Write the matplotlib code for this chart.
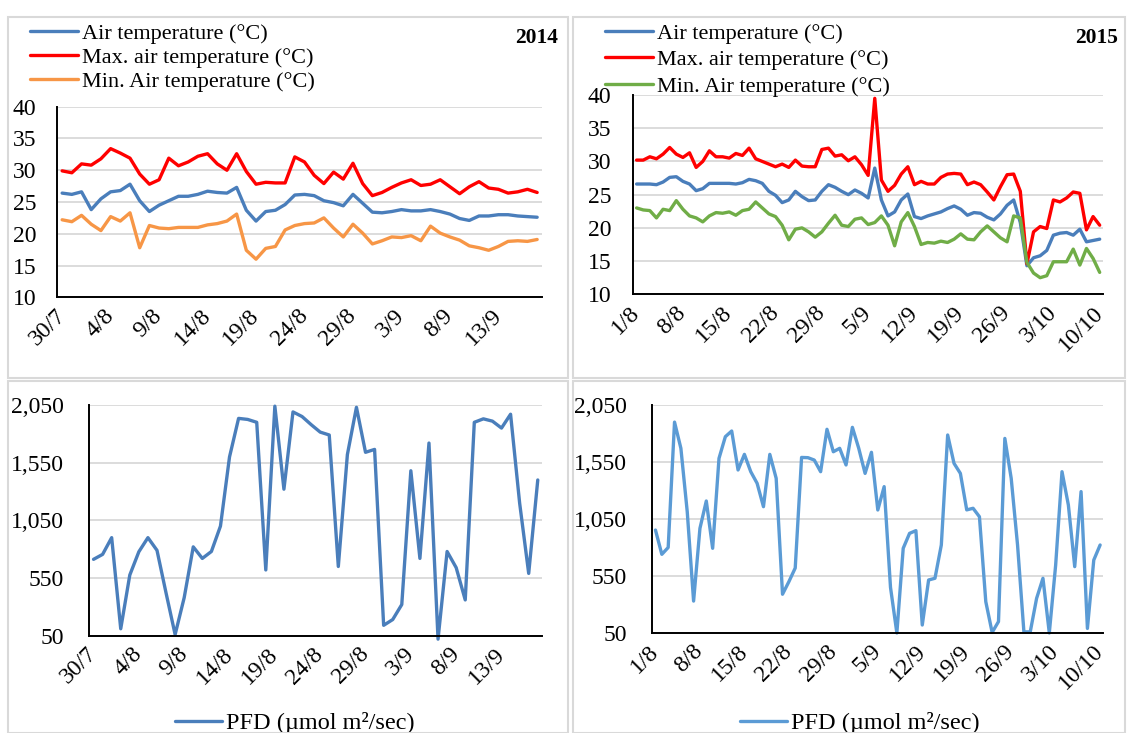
import pandas as pd
import matplotlib
matplotlib.use("Agg")
import matplotlib.pyplot as plt
from matplotlib.patches import Rectangle

plt.rcParams['font.family'] = ['Liberation Serif', 'DejaVu Serif']

# ---- data 2014 (30/7 .. 17/9) ----
dates14 = pd.date_range("2014-07-30", periods=50, freq="D")
air14 = [26.4, 26.2, 26.6, 23.8, 25.5, 26.6, 26.8, 27.8, 25.2, 23.5,
         24.5, 25.2, 25.9, 25.9, 26.2, 26.7, 26.5, 26.4, 27.3, 23.7,
         22.0, 23.5, 23.7, 24.6, 26.1, 26.2, 26.0, 25.2, 24.9, 24.4,
         26.2, 24.8, 23.4, 23.3, 23.5, 23.8, 23.6, 23.6, 23.8, 23.5,
         23.1, 22.4, 22.1, 22.8, 22.8, 23.0, 23.0, 22.8, 22.7, 22.6]
max14 = [29.9, 29.6, 31.0, 30.8, 31.8, 33.4, 32.7, 31.9, 29.4, 27.8,
         28.5, 31.9, 30.7, 31.3, 32.2, 32.6, 31.0, 30.0, 32.6, 29.8,
         27.8, 28.1, 28.0, 28.0, 32.1, 31.3, 29.2, 27.9, 29.7, 28.6,
         31.1, 27.9, 26.0, 26.5, 27.3, 28.0, 28.5, 27.6, 27.8, 28.5,
         27.4, 26.3, 27.4, 28.2, 27.2, 27.0, 26.4, 26.6, 27.0, 26.5]
min14 = [22.2, 21.9, 22.9, 21.5, 20.5, 22.7, 22.0, 23.3, 17.8, 21.3,
         20.9, 20.8, 21.0, 21.0, 21.0, 21.4, 21.6, 22.0, 23.1, 17.4,
         16.0, 17.7, 18.0, 20.6, 21.3, 21.6, 21.7, 22.5, 20.9, 19.5,
         21.5, 20.1, 18.4, 18.9, 19.5, 19.4, 19.7, 18.9, 21.2, 20.1,
         19.5, 19.0, 18.1, 17.8, 17.4, 18.0, 18.8, 18.9, 18.8, 19.1]
pfd14 = [712, 755, 900, 110, 576, 778, 900, 790, 420, 60,
         380, 820, 720, 780, 1000, 1600, 1934, 1925, 1900, 620,
         2040, 1320, 1990, 1950, 1880, 1815, 1790, 650, 1620, 2030,
         1640, 1665, 140, 190, 320, 1480, 720, 1720, 20, 780,
         640, 360, 1900, 1930, 1910, 1850, 1970, 1200, 590, 1400]

# ---- data 2015 (1/8 .. 10/10) ----
dates15 = pd.date_range("2015-08-01", periods=71, freq="D")
air15 = [26.6, 26.6, 26.6, 26.5, 26.9, 27.6, 27.7, 27.0, 26.6, 25.6,
         25.9, 26.7, 26.7, 26.7, 26.7, 26.6, 26.8, 27.3, 27.1, 26.7,
         25.5, 24.9, 23.8, 24.2, 25.5, 24.7, 24.1, 24.2, 25.5, 26.5,
         26.1, 25.5, 25.0, 25.7, 25.2, 24.5, 29.0, 24.2, 21.8, 22.4,
         24.2, 25.1, 21.7, 21.4, 21.8, 22.1, 22.4, 22.9, 23.3, 22.8,
         21.9, 22.3, 22.2, 21.6, 21.2, 22.1, 23.4, 24.2, 20.8, 14.3,
         15.5, 15.8, 16.6, 18.9, 19.2, 19.3, 18.9, 19.8, 17.9, 18.1,
         18.3]
max15 = [30.2, 30.2, 30.7, 30.4, 31.1, 32.1, 31.1, 30.6, 31.3, 29.1,
         30.0, 31.6, 30.7, 30.7, 30.5, 31.2, 30.9, 32.0, 30.4, 30.0,
         29.6, 29.2, 29.6, 29.1, 30.2, 29.3, 29.2, 29.2, 31.8, 32.0,
         30.8, 31.0, 30.1, 30.7, 29.5, 27.9, 39.5, 27.2, 25.5, 26.4,
         28.1, 29.2, 26.5, 27.0, 26.6, 26.6, 27.6, 28.1, 28.2, 28.1,
         26.5, 26.9, 26.5, 25.4, 24.2, 26.2, 28.0, 28.1, 25.5, 14.6,
         19.4, 20.2, 19.9, 24.2, 23.9, 24.5, 25.4, 25.2, 19.7, 21.7,
         20.4]
min15 = [23.0, 22.7, 22.6, 21.5, 22.8, 22.6, 24.1, 22.8, 21.8, 21.5,
         20.9, 21.8, 22.3, 22.2, 22.4, 21.9, 22.6, 22.8, 23.9, 23.0,
         22.1, 21.7, 20.4, 18.2, 19.8, 20.0, 19.4, 18.6, 19.4, 20.7,
         21.9, 20.4, 20.2, 21.3, 21.5, 20.5, 20.8, 21.8, 20.4, 17.3,
         20.9, 22.3, 20.2, 17.5, 17.8, 17.7, 18.0, 17.8, 18.3, 19.1,
         18.3, 18.2, 19.4, 20.3, 19.4, 18.5, 17.9, 21.8, 21.5, 14.8,
         13.2, 12.5, 12.8, 14.9, 14.9, 14.9, 16.8, 14.4, 16.9, 15.4,
         13.3]
pfd15 = [953, 740, 800, 1900, 1670, 1114, 330, 968, 1208, 793,
         1582, 1772, 1822, 1480, 1617, 1465, 1363, 1158, 1617, 1407,
         390, 500, 620, 1590, 1588, 1567, 1465, 1837, 1640, 1670,
         1524, 1854, 1670, 1450, 1635, 1129, 1334, 450, 50, 793,
         924, 948, 120, 515, 530, 822, 1787, 1538, 1450, 1130,
         1144, 1070, 325, 55, 150, 1757, 1407, 822, 60, 60,
         354, 530, 50, 646, 1465, 1173, 632, 1290, 90, 690,
         822]

temp_ticks = [10, 15, 20, 25, 30, 35, 40]
pfd_ticks = [50, 550, 1050, 1550, 2050]
pfd_ticklabels = ["50", "550", "1,050", "1,550", "2,050"]

labels_temp = ["Air temperature (°C)", "Max. air temperature (°C)", "Min. Air temperature (°C)"]
label_pfd = "PFD (µmol m²/sec)"

BLUE = "#4a7ebb"
RED = "#ff0000"
ORANGE = "#f79646"
GREEN = "#70ad47"
LBLUE = "#5b9bd5"

W, H = 1127, 733
fig = plt.figure(figsize=(W / 100, H / 100), dpi=100)


def px_axes(x0, y0, x1, y1):
    return fig.add_axes([x0 / W, 1 - y1 / H, (x1 - x0) / W, (y1 - y0) / H])


# panel frames
for x0, y0, x1, y1 in [(8, 17, 568, 378), (573, 17, 1125, 378),
                       (8, 381, 568, 733), (573, 381, 1125, 733)]:
    fig.patches.append(Rectangle((x0 / W, 1 - y1 / H), (x1 - x0) / W, (y1 - y0) / H,
                                 transform=fig.transFigure, fill=False,
                                 ec="#d9d9d9", lw=1.5))

TICK_FS = 17


def style(ax, dates, step, yt, ytl, ylim, ypad):
    n = len(dates)
    ax.set_xlim(-0.5, n - 0.5)
    ax.set_ylim(*ylim)
    ax.set_yticks(yt)
    ax.set_yticklabels(ytl)
    idx = list(range(0, n, step))
    ax.set_xticks(idx)
    ax.set_xticklabels([f"{dates[i].day}/{dates[i].month}" for i in idx],
                       rotation=45, ha="right", va="center", rotation_mode="anchor")
    for s in ["top", "right"]:
        ax.spines[s].set_visible(False)
    for s in ["left", "bottom"]:
        ax.spines[s].set_color("#000000")
        ax.spines[s].set_linewidth(1.4)
    ax.yaxis.grid(True, color="#d9d9d9", lw=1.3)
    ax.set_axisbelow(True)
    ax.tick_params(axis="both", length=0, labelsize=TICK_FS)
    ax.tick_params(axis="y", pad=ypad)
    ax.tick_params(axis="x", pad=11)


lw = 2.4
kw = dict(lw=lw, solid_joinstyle="round", solid_capstyle="round", clip_on=False)
leg_kw = dict(bbox_transform=fig.transFigure, frameon=False,
              borderpad=0, borderaxespad=0)

# 2014 temperature
ax1 = px_axes(57.3, 106.7, 542, 297.3)
x14 = range(len(dates14))
ax1.plot(x14, air14, color=BLUE, label=labels_temp[0], **kw)
ax1.plot(x14, max14, color=RED, label=labels_temp[1], **kw)
ax1.plot(x14, min14, color=ORANGE, label=labels_temp[2], **kw)
style(ax1, dates14, 5, temp_ticks, [str(t) for t in temp_ticks], (10, 40), 15)
ax1.legend(loc="upper left", bbox_to_anchor=(30 / W, 1 - 23 / H), fontsize=16,
           labelspacing=0.17, handlelength=2.15, handletextpad=0.2, **leg_kw)
fig.text(558 / W, 1 - 38 / H, "2014", ha="right", va="center", fontsize=15.5, fontweight="bold")

# 2015 temperature
ax2 = px_axes(633.3, 95, 1103, 294.3)
x15 = range(len(dates15))
ax2.plot(x15, air15, color=BLUE, label=labels_temp[0], **kw)
ax2.plot(x15, max15, color=RED, label=labels_temp[1], **kw)
ax2.plot(x15, min15, color=GREEN, label=labels_temp[2], **kw)
style(ax2, dates15, 7, temp_ticks, [str(t) for t in temp_ticks], (10, 40), 16)
ax2.legend(loc="upper left", bbox_to_anchor=(605 / W, 1 - 23 / H), fontsize=16,
           labelspacing=0.27, handlelength=2.15, handletextpad=0.2, **leg_kw)
fig.text(1118 / W, 1 - 38 / H, "2015", ha="right", va="center", fontsize=15.5, fontweight="bold")

# 2014 PFD
ax3 = px_axes(89, 405, 542.3, 635.7)
ax3.plot(x14, pfd14, color=BLUE, label=label_pfd, **kw)
style(ax3, dates14, 5, pfd_ticks, pfd_ticklabels, (50, 2050), 18)
ax3.legend(loc="center left", bbox_to_anchor=(175 / W, 1 - 723 / H), fontsize=17.5,
           handlelength=1.95, handletextpad=0.16, **leg_kw)

# 2015 PFD
ax4 = px_axes(652.3, 405, 1103.3, 633)
ax4.plot(x15, pfd15, color=LBLUE, label=label_pfd, **kw)
style(ax4, dates15, 7, pfd_ticks, pfd_ticklabels, (50, 2050), 18)
ax4.legend(loc="center left", bbox_to_anchor=(740 / W, 1 - 723 / H), fontsize=17.5,
           handlelength=1.95, handletextpad=0.16, **leg_kw)

fig.savefig("out.png", dpi=100, facecolor="white")
